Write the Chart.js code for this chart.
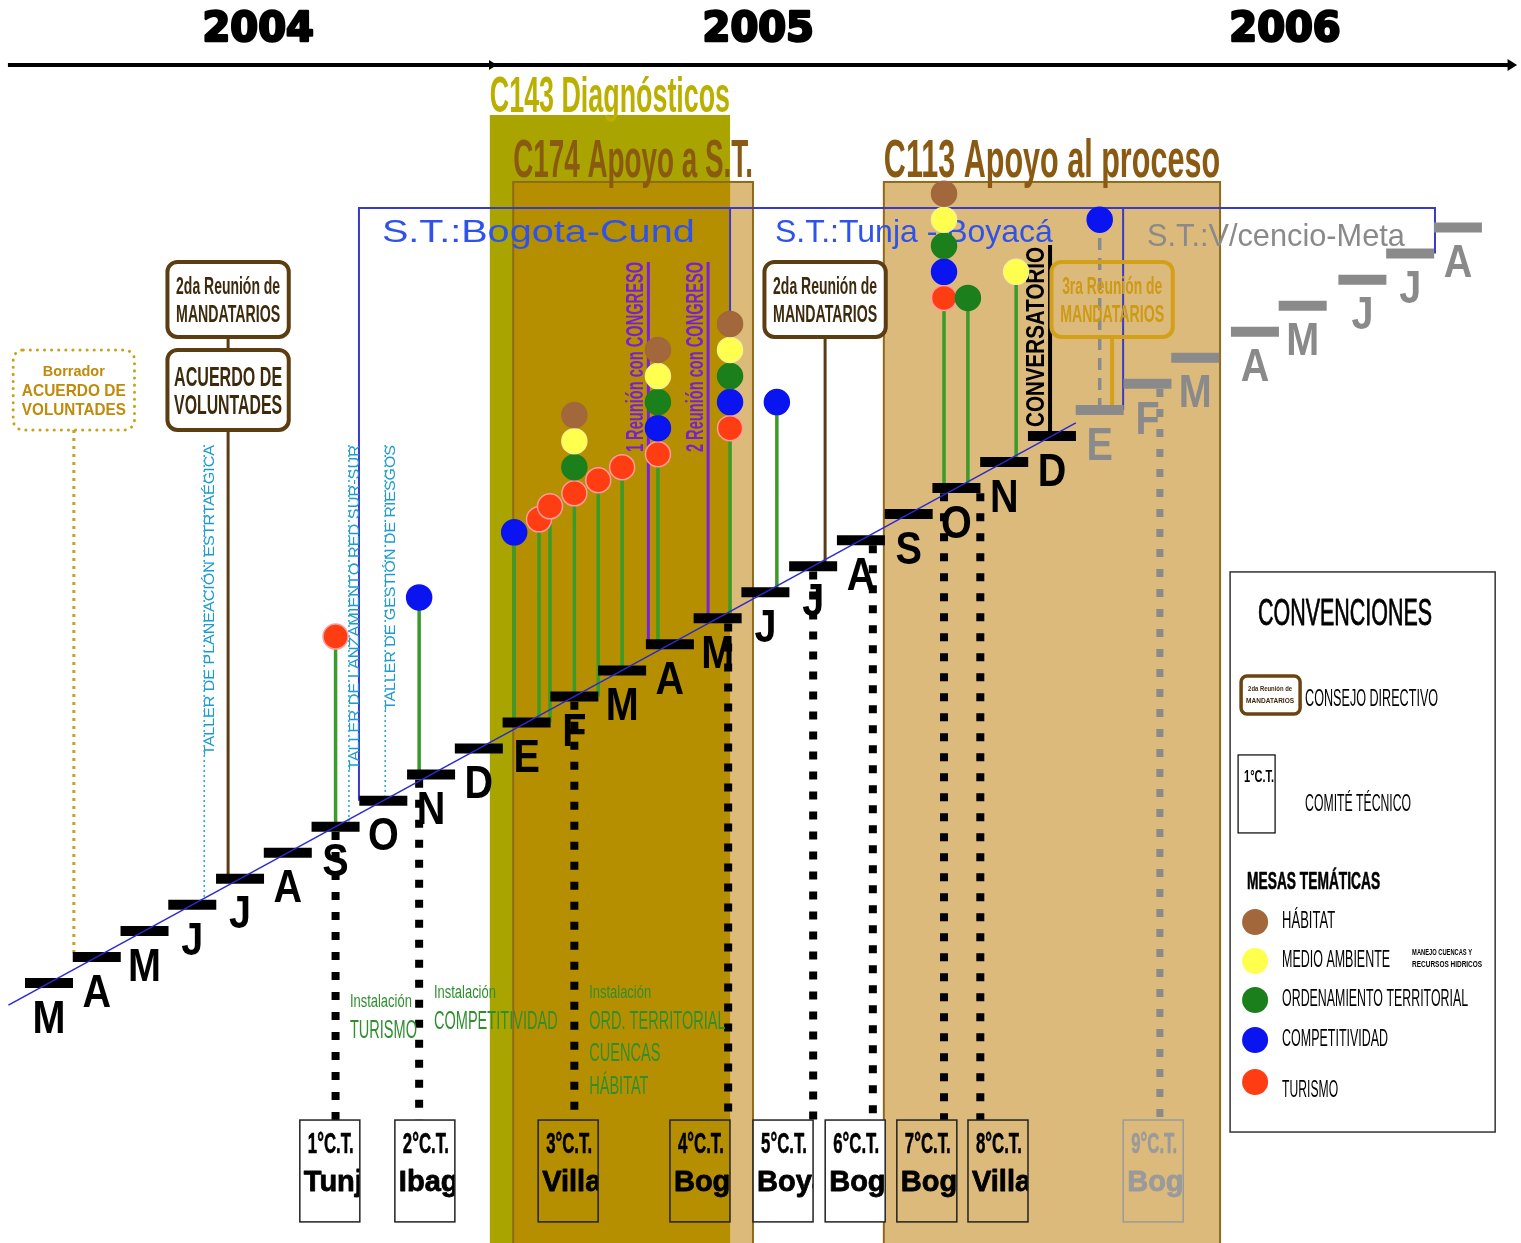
<!DOCTYPE html>
<html lang="es">
<head>
<meta charset="UTF-8" />
<title>Cronograma Secretarías Técnicas 2004-2006</title>
<script src="https://cdn.jsdelivr.net/npm/chart.js@4.4.1/dist/chart.umd.min.js"></script>
<style>
  html, body { margin: 0; padding: 0; background: #fff; }
  div.main { width: 1521px; height: 1243px; }
</style>
</head>
<body>
<div class="main"><canvas id="myChart"></canvas></div>
<script>
// eje de tiempo: 0 = marzo 2004, un escalón por mes
const meses = ['M','A','M','J','J','A','S','O','N','D','E','F','M','A','M','J','J','A','S','O','N','D','E','F','M','A','M','J','J','A'];
const primerMes2006 = 22;
const anios = ['2004', '2005', '2006'];
const anioMes = [4.38, 14.85, 25.88];

// proyectos (mes de inicio y fin)
const proyectos = ['C143 Diagnósticos', 'C174 Apoyo a S.T.', 'C113 Apoyo al proceso'];
const proyInicio = [9.23, 9.72, 17.48];
const proyFin = [14.26, 14.74, 24.52];

// secretarías técnicas
const secretarias = ['S.T.:Bogota-Cund', 'S.T.:Tunja - Boyacá', 'S.T.:V/cencio-Meta'];
const secInicio = [6.49, 14.26, 22.49];
const secFin = [14.26, 22.49, 29.02];

// mesas temáticas: mes, altura del primer círculo, temas de abajo hacia arriba
const temas = ['HÁBITAT', 'MEDIO AMBIENTE', 'ORDENAMIENTO TERRITORIAL', 'COMPETITIVIDAD', 'TURISMO'];
const temaCod = ['H', 'M', 'O', 'C', 'T'];
const mesaMes = [6.0, 7.75, 9.74, 10.26, 10.49, 11.0, 11.5, 12.0, 12.75, 14.26, 15.24, 18.74, 19.24, 20.25, 22.0];
const mesaAlto = [13.3, 14.8, 17.3, 17.8, 18.3, 18.8, 19.3, 19.8, 20.3, 21.3, 22.3, 26.3, 26.3, 27.3, 29.3];
const mesaTemas = ['T', 'C', 'C', 'T', 'T', 'TOMH', 'T', 'T', 'TCOMH', 'TCOMH', 'C', 'TCOMH', 'O', 'M', 'C'];

// comités técnicos
const ctNumero = ['1°', '2°', '3°', '4°', '5°', '6°', '7°', '8°', '9°'];
const ctCiudad = ['Tunja', 'Ibagué', 'Villavicencio', 'Bogotá', 'Boyacá', 'Bogotá', 'Bogotá', 'Villavicencio', 'Bogotá'];
const ctMes = [6.0, 7.75, 11.0, 14.22, 16.0, 17.25, 18.74, 19.5, 23.26];

// consejo directivo
const consejoMes = [0.52, 3.75, 16.25, 22.26];
const consejoTexto = [['Borrador', 'ACUERDO DE', 'VOLUNTADES'], ['2da Reunión de', 'MANDATARIOS'], ['2da Reunión de', 'MANDATARIOS'], ['3ra Reunión de', 'MANDATARIOS']];

// talleres, reuniones con congreso, conversatorio
const talleres = ['TALLER DE PLANEACIÓN ESTRTAÉGICA', 'TALLER DE LANZAMIENTO RED SUR-SUR', 'TALLER DE GESTIÓN DE RIESGOS'];
const tallerMes = [3.25, 6.28, 7.04];
const congreso = ['1 Reunión con CONGRESO', '2 Reunión con CONGRESO'];
const congresoMes = [12.55, 13.8];
const conversatorioMes = 20.96;

// instalación de mesas
const instalacion = [['TURISMO'], ['COMPETITIVIDAD'], ['ORD. TERRITORIAL', 'CUENCAS', 'HÁBITAT']];

// ---- estilos / maquetación ----
const temaColor = { H: '#a2673a', M: '#ffff4d', O: '#1b7f1b', C: '#0a14f0', T: '#ff3d12' };
const temaBorde = { H: '#a2673a', M: '#f4f48a', O: '#1b7f1b', C: '#0a14f0', T: '#ff9c9c' };
const ctCaja = [5.88, 7.87, 10.87, 13.63, 15.37, 16.88, 18.38, 19.87, 23.12];
const instX = [6.30, 8.06, 11.31];
const instY = [-0.73, -0.38, -0.38];
const FONT = '"Liberation Sans", Arial, sans-serif';
// en 2006 los escalones se separan un poco más
const mesPos = meses.map((m, i) => i + (i >= 27 ? 0.5 : i >= 25 ? 0.25 : 0));

const nivel = (m) => Math.round(m - 0.01);
const es2006 = (m) => m >= primerMes2006 - 0.5;

function tramos(lista) {
    const pts = [];
    lista.forEach(([x, y0, y1]) => pts.push({ x: x, y: y0 }, { x: x, y: y1 }, { x: x, y: null }));
    return pts;
}

function T(ctx, s, x, y, o) {
    ctx.save();
    ctx.font = (o.weight || 'normal') + ' ' + o.size + 'px ' + (o.family || FONT);
    ctx.fillStyle = o.color || '#000';
    ctx.textBaseline = o.base || 'middle';
    ctx.textAlign = o.align || 'left';
    ctx.translate(x, y);
    if (o.rot) ctx.rotate(o.rot);
    let sx = o.sx || 1;
    if (o.w) sx = o.w / ctx.measureText(s).width;
    ctx.scale(sx, 1);
    if (o.stroke) {
        ctx.lineWidth = o.stroke;
        ctx.strokeStyle = o.strokeColor || ctx.fillStyle;
        ctx.lineJoin = 'round';
        ctx.strokeText(s, 0, 0);
    }
    ctx.fillText(s, 0, 0);
    ctx.restore();
}

function flecha(ctx, x, y, s) {
    ctx.beginPath();
    ctx.moveTo(x, y);
    ctx.lineTo(x - s * 1.6, y - s);
    ctx.lineTo(x - s * 1.6, y + s);
    ctx.closePath();
    ctx.fill();
}

// ---- datasets ----
const mesaSets = temaCod.map((c) => {
    const pts = [];
    mesaMes.forEach((m, i) => {
        const k = mesaTemas[i].indexOf(c);
        if (k >= 0) pts.push({ x: m, y: mesaAlto[i] + k });
    });
    return {
        label: temas[temaCod.indexOf(c)],
        data: pts,
        pointRadius: 12.5,
        pointBackgroundColor: temaColor[c],
        pointBorderColor: temaBorde[c],
        pointBorderWidth: 1.5,
        order: 0,
    };
});

const tallos = [], tallos06 = [];
mesaMes.forEach((m, i) => (es2006(m) ? tallos06 : tallos).push([m, nivel(m), mesaAlto[i]]));
const ctLineas = [], ctLineas06 = [];
ctMes.forEach((m) => (es2006(m) ? ctLineas06 : ctLineas).push([m, nivel(m) - 0.2, -5.26]));

const lineaBase = { type: 'line', showLine: true, pointRadius: 0, fill: false, borderCapStyle: 'butt', spanGaps: false };

const datasets = [
    ...mesaSets,
    Object.assign({}, lineaBase, {
        label: 'tendencia', data: [{ x: -0.85, y: -0.85 }, { x: 21.5, y: 21.5 }],
        borderColor: '#2a2ad2', borderWidth: 1.5, order: 1,
    }),
    {
        label: 'meses',
        data: meses.map((m, i) => ({ x: mesPos[i], y: i })),
        pointStyle: 'line', pointRadius: 24, pointBorderWidth: 10,
        pointBorderColor: meses.map((m, i) => (i >= primerMes2006 ? '#8a8a8a' : '#000')),
        order: 2,
    },
    Object.assign({}, lineaBase, { label: 'tallos', data: tramos(tallos), borderColor: '#3a9a2a', borderWidth: 3.5, order: 3 }),
    Object.assign({}, lineaBase, { label: 'tallos06', data: tramos(tallos06), borderColor: '#8a8a8a', borderWidth: 3.5, borderDash: [12, 8], order: 3 }),
    Object.assign({}, lineaBase, { label: 'ct', data: tramos(ctLineas), borderColor: '#000', borderWidth: 8, borderDash: [8, 12], order: 3 }),
    Object.assign({}, lineaBase, { label: 'ct06', data: tramos(ctLineas06), borderColor: '#8a8a8a', borderWidth: 7, borderDash: [8, 12], order: 3 }),
    Object.assign({}, lineaBase, {
        label: 'consejo',
        data: tramos([[consejoMes[1], 21.23, nivel(consejoMes[1])], [consejoMes[1], 24.80, 24.30], [consejoMes[2], 24.80, nivel(consejoMes[2])]]),
        borderColor: '#5a3c14', borderWidth: 3, order: 3,
    }),
    Object.assign({}, lineaBase, {
        label: 'consejo06', data: tramos([[consejoMes[3], 24.80, nivel(consejoMes[3])]]),
        borderColor: '#d4a017', borderWidth: 4, order: 3,
    }),
    Object.assign({}, lineaBase, {
        label: 'borrador', data: tramos([[consejoMes[0], 21.23, nivel(consejoMes[0])]]),
        borderColor: '#c8a21a', borderWidth: 3, borderDash: [3, 5], order: 3,
    }),
    Object.assign({}, lineaBase, {
        label: 'congreso', data: tramos(congresoMes.map((m) => [m, 27.68, nivel(m)])),
        borderColor: '#7b22d8', borderWidth: 3, order: 3,
    }),
    Object.assign({}, lineaBase, {
        label: 'conversatorio', data: tramos([[conversatorioMes, 28.33, nivel(conversatorioMes)]]),
        borderColor: '#000', borderWidth: 4, order: 3,
    }),
    Object.assign({}, lineaBase, {
        label: 'talleres', data: tramos(tallerMes.map((m) => [m, 20.65, nivel(m) + 0.2])),
        borderColor: '#27a6d6', borderWidth: 1.5, borderDash: [2, 3], order: 3,
    }),
];

// ---- dibujo de fondo y anotaciones ----
const fondo = {
    id: 'fondo',
    beforeDatasetsDraw(chart) {
        const { ctx, scales } = chart;
        const X = (v) => scales.x.getPixelForValue(v), Y = (v) => scales.y.getPixelForValue(v);
        const H = chart.height;
        ctx.save();
        ctx.fillStyle = '#fff';
        ctx.fillRect(0, 0, chart.width, H);

        // bandas de proyectos
        ctx.fillStyle = '#aaa400';
        ctx.fillRect(X(proyInicio[0]), Y(33.32), X(proyFin[0]) - X(proyInicio[0]), H);
        ctx.fillStyle = '#dcba7a';
        ctx.fillRect(X(proyInicio[1]), Y(30.75), X(proyFin[1]) - X(proyInicio[1]), H);
        ctx.fillStyle = '#b68f00';
        ctx.fillRect(X(proyInicio[1]), Y(30.75), X(proyFin[0]) - X(proyInicio[1]), H);
        ctx.fillStyle = '#dcba7c';
        ctx.fillRect(X(proyInicio[2]), Y(30.75), X(proyFin[2]) - X(proyInicio[2]), H);
        ctx.strokeStyle = '#8d6a1c';
        ctx.lineWidth = 2;
        [1, 2].forEach((i) => ctx.strokeRect(X(proyInicio[i]), Y(30.75), X(proyFin[i]) - X(proyInicio[i]), H));

        T(ctx, proyectos[0], (X(proyInicio[0]) + X(proyFin[0])) / 2, Y(33.44), { size: 50, weight: 'bold', align: 'center', base: 'alphabetic', w: X(proyFin[0]) - X(proyInicio[0]), color: '#bbb000' });
        T(ctx, proyectos[1], (X(proyInicio[1]) + X(proyFin[1])) / 2, Y(30.93), { size: 54, weight: 'bold', align: 'center', base: 'alphabetic', w: X(proyFin[1]) - X(proyInicio[1]), color: '#8a5a12' });
        T(ctx, proyectos[2], (X(proyInicio[2]) + X(proyFin[2])) / 2, Y(30.93), { size: 54, weight: 'bold', align: 'center', base: 'alphabetic', w: X(proyFin[2]) - X(proyInicio[2]), color: '#8a5a12' });

        // eje de años
        ctx.fillStyle = '#000';
        ctx.strokeStyle = '#000';
        ctx.lineWidth = 4;
        ctx.beginPath();
        ctx.moveTo(X(-0.86), Y(35.24));
        ctx.lineTo(X(30.6), Y(35.24));
        ctx.stroke();
        flecha(ctx, X(30.74), Y(35.24), 6);
        flecha(ctx, X(9.38), Y(35.24), 5);
        anios.forEach((a, i) => T(ctx, a, X(anioMes[i]), Y(36.55), { size: 40, weight: 'bold', align: 'center', family: '"DejaVu Sans", sans-serif', stroke: 2.5 }));

        // recuadro secretarías técnicas
        ctx.strokeStyle = '#3a3ac8';
        ctx.lineWidth = 2;
        ctx.beginPath();
        ctx.moveTo(X(secInicio[0]), Y(7));
        ctx.lineTo(X(secInicio[0]), Y(29.75));
        ctx.lineTo(X(secFin[2]), Y(29.75));
        ctx.lineTo(X(secFin[2]), Y(28));
        ctx.moveTo(X(secInicio[1]), Y(29.75));
        ctx.lineTo(X(secInicio[1]), Y(25.3));
        ctx.moveTo(X(secInicio[2]), Y(29.75));
        ctx.lineTo(X(secInicio[2]), Y(22));
        ctx.stroke();
        T(ctx, secretarias[0], X(6.97), Y(28.45), { size: 32, base: 'alphabetic', w: X(13.52) - X(6.97), color: '#2f52ea' });
        T(ctx, secretarias[1], X(15.2), Y(28.45), { size: 32, base: 'alphabetic', w: X(21.02) - X(15.2), color: '#2f52ea' });
        T(ctx, secretarias[2], X(22.99), Y(28.29), { size: 32, base: 'alphabetic', w: X(28.39) - X(22.99), color: '#8a8a8a' });

        // talleres
        const largo = [310, 325, 265];
        talleres.forEach((t, i) => T(ctx, t, X(tallerMes[i]) + 6, Y(20.65), { size: 15, rot: -Math.PI / 2, align: 'right', w: largo[i], color: '#1b9bd0' }));

        // reuniones con congreso y conversatorio
        congreso.forEach((c, i) => T(ctx, c, X(congresoMes[i]) - 12, Y(24.03), { size: 24, weight: 'bold', rot: -Math.PI / 2, align: 'center', w: Y(20.38) - Y(27.68), color: '#7a1fd6' }));
        T(ctx, 'CONVERSATORIO', X(conversatorioMes) - 13, Y(24.8), { size: 26, weight: 'bold', rot: -Math.PI / 2, align: 'center', w: Y(21.34) - Y(28.25), color: '#000' });
        ctx.restore();
    },
    afterDatasetsDraw(chart) {
        const { ctx, scales } = chart;
        const X = (v) => scales.x.getPixelForValue(v), Y = (v) => scales.y.getPixelForValue(v);
        ctx.save();

        // letras de los meses
        meses.forEach((m, i) => T(ctx, m, X(mesPos[i]), Y(i - 1.42), { size: 46, weight: 'bold', align: 'center', sx: 0.86, color: i >= primerMes2006 ? '#8a8a8a' : '#000' }));

        // consejo directivo
        const caja = (m, top, bot, borde, relleno, dash) => {
            const x0 = X(m - 1.27), x1 = X(m + 1.27);
            ctx.save();
            ctx.beginPath();
            ctx.roundRect(x0, Y(top), x1 - x0, Y(bot) - Y(top), 10);
            if (relleno) { ctx.fillStyle = relleno; ctx.fill(); }
            ctx.strokeStyle = borde;
            ctx.lineWidth = dash ? 3 : 4;
            if (dash) { ctx.setLineDash(dash); ctx.lineCap = 'round'; }
            ctx.stroke();
            ctx.restore();
        };
        caja(consejoMes[0], 24.30, 21.23, '#c8a21a', '#fff', [0.1, 7]);
        T(ctx, consejoTexto[0][0], X(consejoMes[0]), Y(23.45), { size: 15, weight: 'bold', align: 'center', w: 62, color: '#c08a0a' });
        T(ctx, consejoTexto[0][1], X(consejoMes[0]), Y(22.73), { size: 17, weight: 'bold', align: 'center', w: 104, color: '#c08a0a' });
        T(ctx, consejoTexto[0][2], X(consejoMes[0]), Y(22.0), { size: 17, weight: 'bold', align: 'center', w: 104, color: '#c08a0a' });

        [1, 2].forEach((i) => {
            caja(consejoMes[i], 27.68, 24.80, '#5c3d12', '#fff');
            T(ctx, consejoTexto[i][0], X(consejoMes[i]), Y(26.72), { size: 24, weight: 'bold', align: 'center', w: 104, color: '#3d2a0c' });
            T(ctx, consejoTexto[i][1], X(consejoMes[i]), Y(25.64), { size: 24, weight: 'bold', align: 'center', w: 104, color: '#3d2a0c' });
        });
        caja(consejoMes[1], 24.30, 21.23, '#5c3d12', '#fff');
        T(ctx, 'ACUERDO DE', X(consejoMes[1]), Y(23.22), { size: 28, weight: 'bold', align: 'center', w: 108, color: '#3d2a0c' });
        T(ctx, 'VOLUNTADES', X(consejoMes[1]), Y(22.15), { size: 28, weight: 'bold', align: 'center', w: 108, color: '#3d2a0c' });

        caja(consejoMes[3], 27.68, 24.80, '#d4a017', null);
        T(ctx, consejoTexto[3][0], X(consejoMes[3]), Y(26.72), { size: 24, weight: 'bold', align: 'center', w: 100, color: '#cc9a14' });
        T(ctx, consejoTexto[3][1], X(consejoMes[3]), Y(25.64), { size: 24, weight: 'bold', align: 'center', w: 104, color: '#cc9a14' });

        // instalación de mesas
        instalacion.forEach((lineas, i) => {
            T(ctx, 'Instalación', X(instX[i]), Y(instY[i]), { size: 18, sx: 0.72, color: '#2f8f2f' });
            lineas.forEach((l, k) => T(ctx, l, X(instX[i]), Y(instY[i] - 1.1 - k * 1.25), { size: 26, sx: 0.56, color: '#2f8f2f' }));
        });

        // comités técnicos
        ctCaja.forEach((c, i) => {
            const bx = X(c) - 30, by = Y(-5.26), bw = 60, bh = Y(-9.17) - Y(-5.26);
            const gris = es2006(ctMes[i]);
            const color = gris ? '#9a9a9a' : '#000';
            const dentro = proyInicio.some((p, k) => c > p && c < proyFin[k]);
            ctx.save();
            if (!dentro) { ctx.fillStyle = '#fff'; ctx.fillRect(bx, by, bw, bh); }
            ctx.beginPath();
            ctx.rect(bx, by, bw, bh);
            ctx.clip();
            T(ctx, ctNumero[i] + 'C.T.', bx + 8, by + 25, { size: 30, weight: 'bold', sx: 0.56, color: color, stroke: 0.6 });
            T(ctx, ctCiudad[i], bx + 4, by + 63, { size: 29, weight: 'bold', color: color, stroke: 0.8 });
            ctx.restore();
            ctx.strokeStyle = gris ? '#9a9a9a' : '#222';
            ctx.lineWidth = 1.5;
            ctx.strokeRect(bx, by, bw, bh);
        });

        // convenciones
        const bl = X(24.73), bt = Y(15.78), bw = X(30.28) - bl, bh = Y(-5.72) - bt;
        ctx.fillStyle = '#fff';
        ctx.fillRect(bl, bt, bw, bh);
        ctx.strokeStyle = '#333';
        ctx.lineWidth = 1.5;
        ctx.strokeRect(bl, bt, bw, bh);
        T(ctx, 'CONVENCIONES', bl + 28, bt + 43, { size: 36, w: 174, stroke: 0.8 });
        ctx.beginPath();
        ctx.roundRect(bl + 11, bt + 104, 59, 38, 6);
        ctx.fillStyle = '#fff';
        ctx.fill();
        ctx.strokeStyle = '#6b4410';
        ctx.lineWidth = 3.5;
        ctx.stroke();
        T(ctx, '2da Reunión de', bl + 40, bt + 117, { size: 8, weight: 'bold', align: 'center', w: 44, color: '#3d2a0c' });
        T(ctx, 'MANDATARIOS', bl + 40, bt + 129, { size: 8, weight: 'bold', align: 'center', w: 48, color: '#3d2a0c' });
        T(ctx, 'CONSEJO DIRECTIVO', bl + 75, bt + 127, { size: 24, w: 133 });
        ctx.strokeStyle = '#000';
        ctx.lineWidth = 1.2;
        ctx.strokeRect(bl + 8, bt + 183, 37, 78);
        T(ctx, '1°C.T.', bl + 14, bt + 205, { size: 17, weight: 'bold', w: 30 });
        T(ctx, 'COMITÉ TÉCNICO', bl + 75, bt + 232, { size: 24, w: 106 });
        T(ctx, 'MESAS TEMÁTICAS', bl + 17, bt + 310, { size: 24, weight: 'bold', w: 133, stroke: 0.6 });
        const ley = [350, 389, 428, 468, 510];
        const anchos = [53, 108, 186, 106, 56];
        temaCod.forEach((c, k) => {
            ctx.beginPath();
            ctx.arc(bl + 25, bt + ley[k], 13, 0, Math.PI * 2);
            ctx.fillStyle = temaColor[c];
            ctx.fill();
            T(ctx, temas[k], bl + 52, bt + ley[k] + (k === 4 ? 8 : -1), { size: 24, w: anchos[k] });
        });
        T(ctx, 'MANEJO CUENCAS Y', bl + 182, bt + 381, { size: 9, weight: 'bold', w: 60 });
        T(ctx, 'RECURSOS HIDRICOS', bl + 182, bt + 393, { size: 9, weight: 'bold', w: 70 });
        ctx.restore();
    },
};

const myChart = new Chart(document.getElementById('myChart').getContext('2d'), {
    type: 'scatter',
    data: { datasets: datasets },
    options: {
        responsive: true,
        maintainAspectRatio: false,
        animation: false,
        events: [],
        layout: { padding: 0, autoPadding: false },
        plugins: { legend: { display: false }, tooltip: { enabled: false } },
        scales: {
            x: { type: 'linear', display: false, min: -1.026, max: 30.821 },
            y: { type: 'linear', display: false, min: -9.98, max: 37.735 },
        },
    },
    plugins: [fondo],
});
</script>
</body>
</html>
